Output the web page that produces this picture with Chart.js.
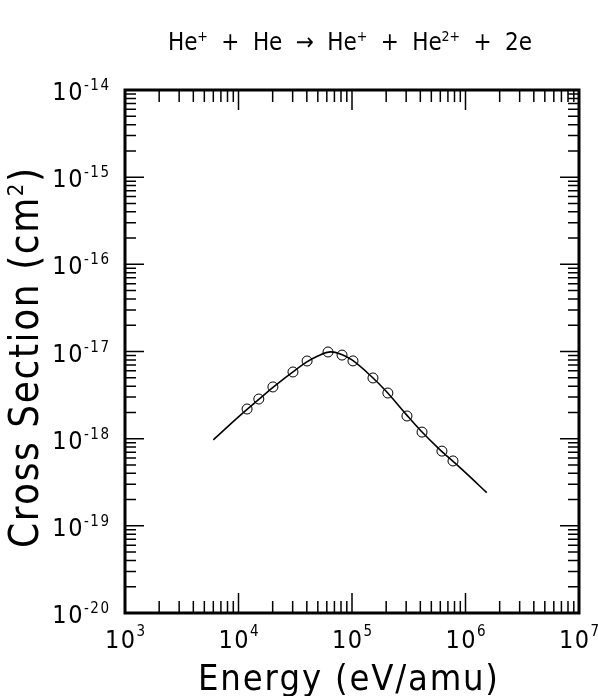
<!DOCTYPE html>
<html>
<head>
<meta charset="utf-8">
<script src="https://cdn.jsdelivr.net/npm/chart.js@4.4.0/dist/chart.umd.min.js"></script>
<style>
  html, body { margin: 0; padding: 0; background: #fff; }
  canvas { display: block; }
</style>
</head>
<body>
<canvas id="chart" width="598" height="696"></canvas>
<script>
// measured points (circles)
const energy = [1.19e4, 1.51e4, 2.01e4, 3.02e4, 4.02e4, 6.15e4, 8.17e4, 1.02e5, 1.53e5, 2.07e5, 3.05e5, 4.14e5, 6.2e5, 7.76e5];
const sigma = [2.19e-18, 2.85e-18, 3.92e-18, 5.82e-18, 7.78e-18, 9.87e-18, 9.1e-18, 7.8e-18, 4.97e-18, 3.34e-18, 1.82e-18, 1.19e-18, 7.2e-19, 5.55e-19];

// fitted curve
const fitEnergy = [6.0e3, 1.0e4, 1.5e4, 2.0e4, 3.0e4, 4.0e4, 5.0e4, 6.5e4, 8.0e4, 1.0e5, 1.5e5, 2.0e5, 3.0e5, 4.0e5, 6.0e5, 8.0e5, 1.0e6, 1.54e6];
const fitSigma = [9.7e-19, 1.78e-18, 2.8e-18, 3.85e-18, 5.8e-18, 7.6e-18, 8.9e-18, 9.9e-18, 9.3e-18, 8.0e-18, 5.1e-18, 3.5e-18, 1.9e-18, 1.25e-18, 7.4e-19, 5.3e-19, 4.07e-19, 2.4e-19];

// axis decades (tick labels are 10^n)
const xDecades = [3, 4, 5, 6, 7];
const yDecades = [-20, -19, -18, -17, -16, -15, -14];

const FONT = '"Liberation Sans Narrow", "DejaVu Sans Condensed", "Liberation Sans", sans-serif';

function logTicks(decades) {
  const ticks = [];
  for (let i = 0; i < decades.length - 1; i++) {
    for (let m = 1; m <= 9; m++) {
      ticks.push({ value: Number(m + 'e' + decades[i]), major: m === 1 });
    }
  }
  ticks.push({ value: Number('1e' + decades[decades.length - 1]), major: true });
  return ticks;
}

// draw text char by char with extra spacing; segs = [{t, sup}]
function richWidth(ctx, segs, big, small, sp) {
  let w = 0;
  segs.forEach(s => {
    ctx.font = (s.sup ? small : big) + 'px ' + FONT;
    for (const ch of s.t) w += ctx.measureText(ch).width + sp;
  });
  return w - sp;
}
function drawRich(ctx, segs, x, base, big, small, sp, rise) {
  segs.forEach(s => {
    ctx.font = (s.sup ? small : big) + 'px ' + FONT;
    for (const ch of s.t) {
      ctx.fillText(ch, x, s.sup ? base - rise : base);
      x += ctx.measureText(ch).width + sp;
    }
  });
}
function fitSpacing(ctx, segs, big, small, target) {
  const n = segs.reduce((k, s) => k + [...s.t].length, 0) - 1;
  const w0 = richWidth(ctx, segs, big, small, 0);
  return (target - w0) / n;
}
function powSegs(e) {
  return [{ t: '10', sup: false }, { t: (e < 0 ? '-' : '') + Math.abs(e), sup: true }];
}

const decor = {
  id: 'decor',
  afterDraw(chart) {
    const { ctx, chartArea: a, scales: { x, y } } = chart;
    ctx.save();
    ctx.strokeStyle = '#000';
    ctx.fillStyle = '#000';
    ctx.lineCap = 'butt';

    // inward ticks on all four sides
    ctx.lineWidth = 1.5;
    ctx.beginPath();
    x.ticks.forEach(t => {
      const px = x.getPixelForValue(t.value);
      const len = t.major ? 20 : 12;
      ctx.moveTo(px, a.bottom); ctx.lineTo(px, a.bottom - len);
      ctx.moveTo(px, a.top); ctx.lineTo(px, a.top + len);
    });
    y.ticks.forEach(t => {
      const py = y.getPixelForValue(t.value);
      const len = t.major ? 19 : 11;
      ctx.moveTo(a.left, py); ctx.lineTo(a.left + len, py);
      ctx.moveTo(a.right, py); ctx.lineTo(a.right - len, py);
    });
    ctx.stroke();

    // frame
    ctx.lineWidth = 3;
    ctx.strokeRect(a.left, a.top, a.right - a.left, a.bottom - a.top);

    // tick labels
    ctx.textBaseline = 'alphabetic';
    ctx.textAlign = 'left';
    yDecades.forEach(e => {
      const py = y.getPixelForValue(Math.pow(10, e));
      const segs = powSegs(e);
      const w = richWidth(ctx, segs, 25, 15, 1.5);
      drawRich(ctx, segs, 109 - w, py + 10, 25, 15, 1.5, 10);
    });
    xDecades.forEach(e => {
      const px = x.getPixelForValue(Math.pow(10, e));
      const segs = powSegs(e);
      const w = richWidth(ctx, segs, 25, 15, 1.5);
      drawRich(ctx, segs, px - w / 2, 648, 25, 15, 1.5, 12);
    });

    // main title
    const title = [
      { t: 'He', sup: false }, { t: '+', sup: true },
      { t: '  +  He  \u2192  He', sup: false }, { t: '+', sup: true },
      { t: '  +  He', sup: false }, { t: '2+', sup: true },
      { t: '  +  2e', sup: false }
    ];
    let sp = fitSpacing(ctx, title, 24, 14, 364);
    drawRich(ctx, title, 168, 50, 24, 14, sp, 9);

    // x axis title
    const xt = [{ t: 'Energy (eV/amu)', sup: false }];
    sp = fitSpacing(ctx, xt, 36, 20, 300);
    drawRich(ctx, xt, 198, 690, 36, 20, sp, 0);

    // y axis title
    const yt = [{ t: 'Cross Section (cm', sup: false }, { t: '2', sup: true }, { t: ')', sup: false }];
    sp = fitSpacing(ctx, yt, 40, 22, 380);
    ctx.translate(38, 548);
    ctx.rotate(-Math.PI / 2);
    drawRich(ctx, yt, 0, 0, 40, 22, sp, 15);
    ctx.restore();
  }
};

const axisBase = {
  type: 'logarithmic',
  ticks: { display: false },
  grid: { display: false, drawTicks: false },
  border: { display: false },
  title: { display: false }
};

new Chart(document.getElementById('chart'), {
  data: {
    datasets: [
      {
        type: 'line',
        data: fitEnergy.map((e, i) => ({ x: e, y: fitSigma[i] })),
        borderColor: '#000',
        borderWidth: 1.6,
        pointRadius: 0,
        fill: false,
        cubicInterpolationMode: 'monotone'
      },
      {
        type: 'scatter',
        data: energy.map((e, i) => ({ x: e, y: sigma[i] })),
        borderColor: '#000',
        backgroundColor: 'rgba(0,0,0,0)',
        borderWidth: 1,
        pointRadius: 5,
        pointStyle: 'circle'
      }
    ]
  },
  options: {
    responsive: false,
    animation: false,
    layout: { padding: { left: 125, top: 90, right: 19, bottom: 83 } },
    plugins: { legend: { display: false }, tooltip: { enabled: false } },
    scales: {
      x: Object.assign({}, axisBase, {
        min: 1e3, max: 1e7,
        afterBuildTicks: s => { s.ticks = logTicks(xDecades); }
      }),
      y: Object.assign({}, axisBase, {
        min: 1e-20, max: 1e-14,
        afterBuildTicks: s => { s.ticks = logTicks(yDecades); }
      })
    }
  },
  plugins: [decor]
});
</script>
</body>
</html>
